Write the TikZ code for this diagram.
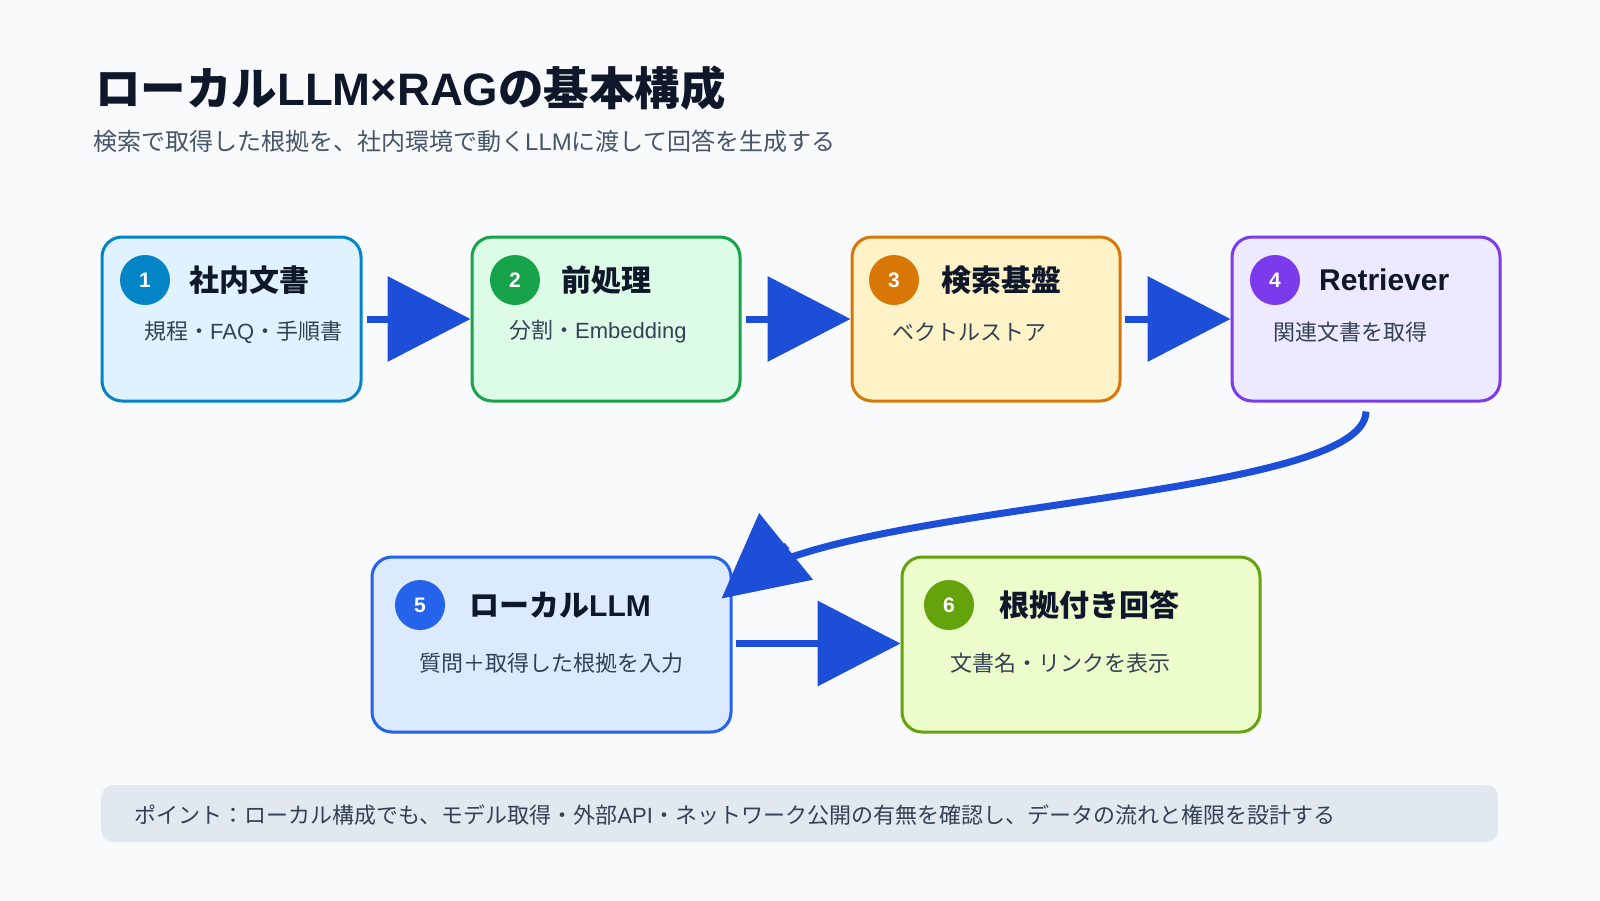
\documentclass[tikz,border=0pt]{standalone}
\usepackage{fontspec}
\setmainfont{Noto Sans CJK JP}
\newfontfamily\lat{Liberation Sans}
\usetikzlibrary{arrows.meta}
\definecolor{bgc}{HTML}{F8FAFC}
\definecolor{titlec}{HTML}{0F172A}
\definecolor{subc}{HTML}{475569}
\definecolor{bodyc}{HTML}{334155}
\definecolor{arrc}{HTML}{1D4ED8}
\definecolor{barc}{HTML}{E2E8F0}
\definecolor{sA}{HTML}{0284C7}\definecolor{fA}{HTML}{E0F2FE}
\definecolor{sB}{HTML}{16A34A}\definecolor{fB}{HTML}{DCFCE7}
\definecolor{sC}{HTML}{D97706}\definecolor{fC}{HTML}{FEF3C7}
\definecolor{sD}{HTML}{7C3AED}\definecolor{fD}{HTML}{EDE9FE}
\definecolor{sE}{HTML}{2563EB}\definecolor{fE}{HTML}{DBEAFE}
\definecolor{sF}{HTML}{65A30D}\definecolor{fF}{HTML}{ECFCCB}
\begin{document}
\begin{tikzpicture}[x=1pt,y=-1pt,
  stagebox/.style={draw, line width=3pt, rounded corners=20pt, anchor=north west, inner sep=0pt},
  numdot/.style={circle, minimum size=50pt, inner sep=0pt, text=white, font=\lat\bfseries\fontsize{21}{21}\selectfont},
  boxtitle/.style={anchor=west, inner sep=0pt, text=titlec, font=\bfseries\fontsize{30}{36}\selectfont},
  boxsub/.style={anchor=west, inner sep=0pt, text=bodyc, font=\fontsize{22}{26}\selectfont},
  connline/.style={draw=arrc, line width=7pt},
  conn/.style={connline, -{Triangle[length=83pt,width=84pt]}}
]
\fill[bgc] (0,0) rectangle (1600,900);
\useasboundingbox (0,0) rectangle (1600,900);

\node[anchor=west, inner sep=0pt, text=titlec, font=\bfseries\fontsize{45.5}{52}\selectfont] (maintitle) at (95,88) {ローカル{\lat LLM×RAG}の基本構成};
\node[anchor=west, inner sep=0pt, text=subc, font=\fontsize{24}{28}\selectfont] (mainsub) at (93,141) {検索で取得した根拠を、社内環境で動く{\lat LLM}に渡して回答を生成する};

% boxes
\node[stagebox, draw=sA, fill=fA, minimum width=259pt, minimum height=164pt] (b1) at (100.5,235.5) {};
\node[stagebox, draw=sB, fill=fB, minimum width=268pt, minimum height=164pt] (b2) at (470.5,235.5) {};
\node[stagebox, draw=sC, fill=fC, minimum width=268pt, minimum height=164pt] (b3) at (850.5,235.5) {};
\node[stagebox, draw=sD, fill=fD, minimum width=268pt, minimum height=164pt] (b4) at (1230.5,235.5) {};
\node[stagebox, draw=sE, fill=fE, minimum width=359pt, minimum height=175pt] (b5) at (370.5,555.5) {};
\node[stagebox, draw=sF, fill=fF, minimum width=358pt, minimum height=175pt] (b6) at (900.5,555.5) {};

% numbers
\node[numdot, fill=sA] (n1) at (145,280) {1};
\node[numdot, fill=sB] (n2) at (515,280) {2};
\node[numdot, fill=sC] (n3) at (894,280) {3};
\node[numdot, fill=sD] (n4) at (1275,280) {4};
\node[numdot, fill=sE] (n5) at (420,605) {5};
\node[numdot, fill=sF] (n6) at (949,605) {6};

% titles
\node[boxtitle] (t1) at (189,280) {社内文書};
\node[boxtitle] (t2) at (561,280) {前処理};
\node[boxtitle] (t3) at (941,280) {検索基盤};
\node[boxtitle] (t4) at (1319,280) {\lat Retriever};
\node[boxtitle] (t5) at (469,605) {ローカル{\lat LLM}};
\node[boxtitle] (t6) at (999,605) {根拠付き回答};

% subtitles
\node[boxsub] (s1) at (144,332) {規程・{\lat FAQ}・手順書};
\node[boxsub] (s2) at (509,332) {分割・{\lat Embedding}};
\node[boxsub] (s3) at (892,332) {ベクトルストア};
\node[boxsub] (s4) at (1273,332) {関連文書を取得};
\node[boxsub] (s5) at (419,663) {質問＋取得した根拠を入力};
\node[boxsub] (s6) at (950,663) {文書名・リンクを表示};

% connectors
\draw[conn] ([xshift=4pt]b1.east) -- (b2.west);
\draw[conn] ([xshift=4pt]b2.east) -- (b3.west);
\draw[conn] ([xshift=3pt]b3.east) -- (b4.west);
% curved connector 4 -> 5 (line runs under the head, head oriented by end tangent)
\coordinate (e5) at ([shift={(-11,43)}]b5.north east);
\coordinate (h5) at ([shift={(65.5,-52.9)}]e5);
\draw[connline, shorten >=25pt] ([yshift=-9pt]b4.south) .. controls (1365,500) and (837,502.5) .. (e5);
\draw[conn] (h5) -- (e5);
\draw[conn] ([xshift=3pt,yshift=1pt]b5.east) -- ([yshift=1pt]b6.west);

% bottom note
\node[fill=barc, rounded corners=12pt, anchor=north west, minimum width=1397pt, minimum height=57pt, inner sep=0pt] (bar) at (101,785) {};
\node[anchor=west, inner sep=0pt, text=bodyc, font=\fontsize{22}{26}\selectfont] (note) at (134,815) {ポイント：ローカル構成でも、モデル取得・外部{\lat API}・ネットワーク公開の有無を確認し、データの流れと権限を設計する};
\end{tikzpicture}
\end{document}
